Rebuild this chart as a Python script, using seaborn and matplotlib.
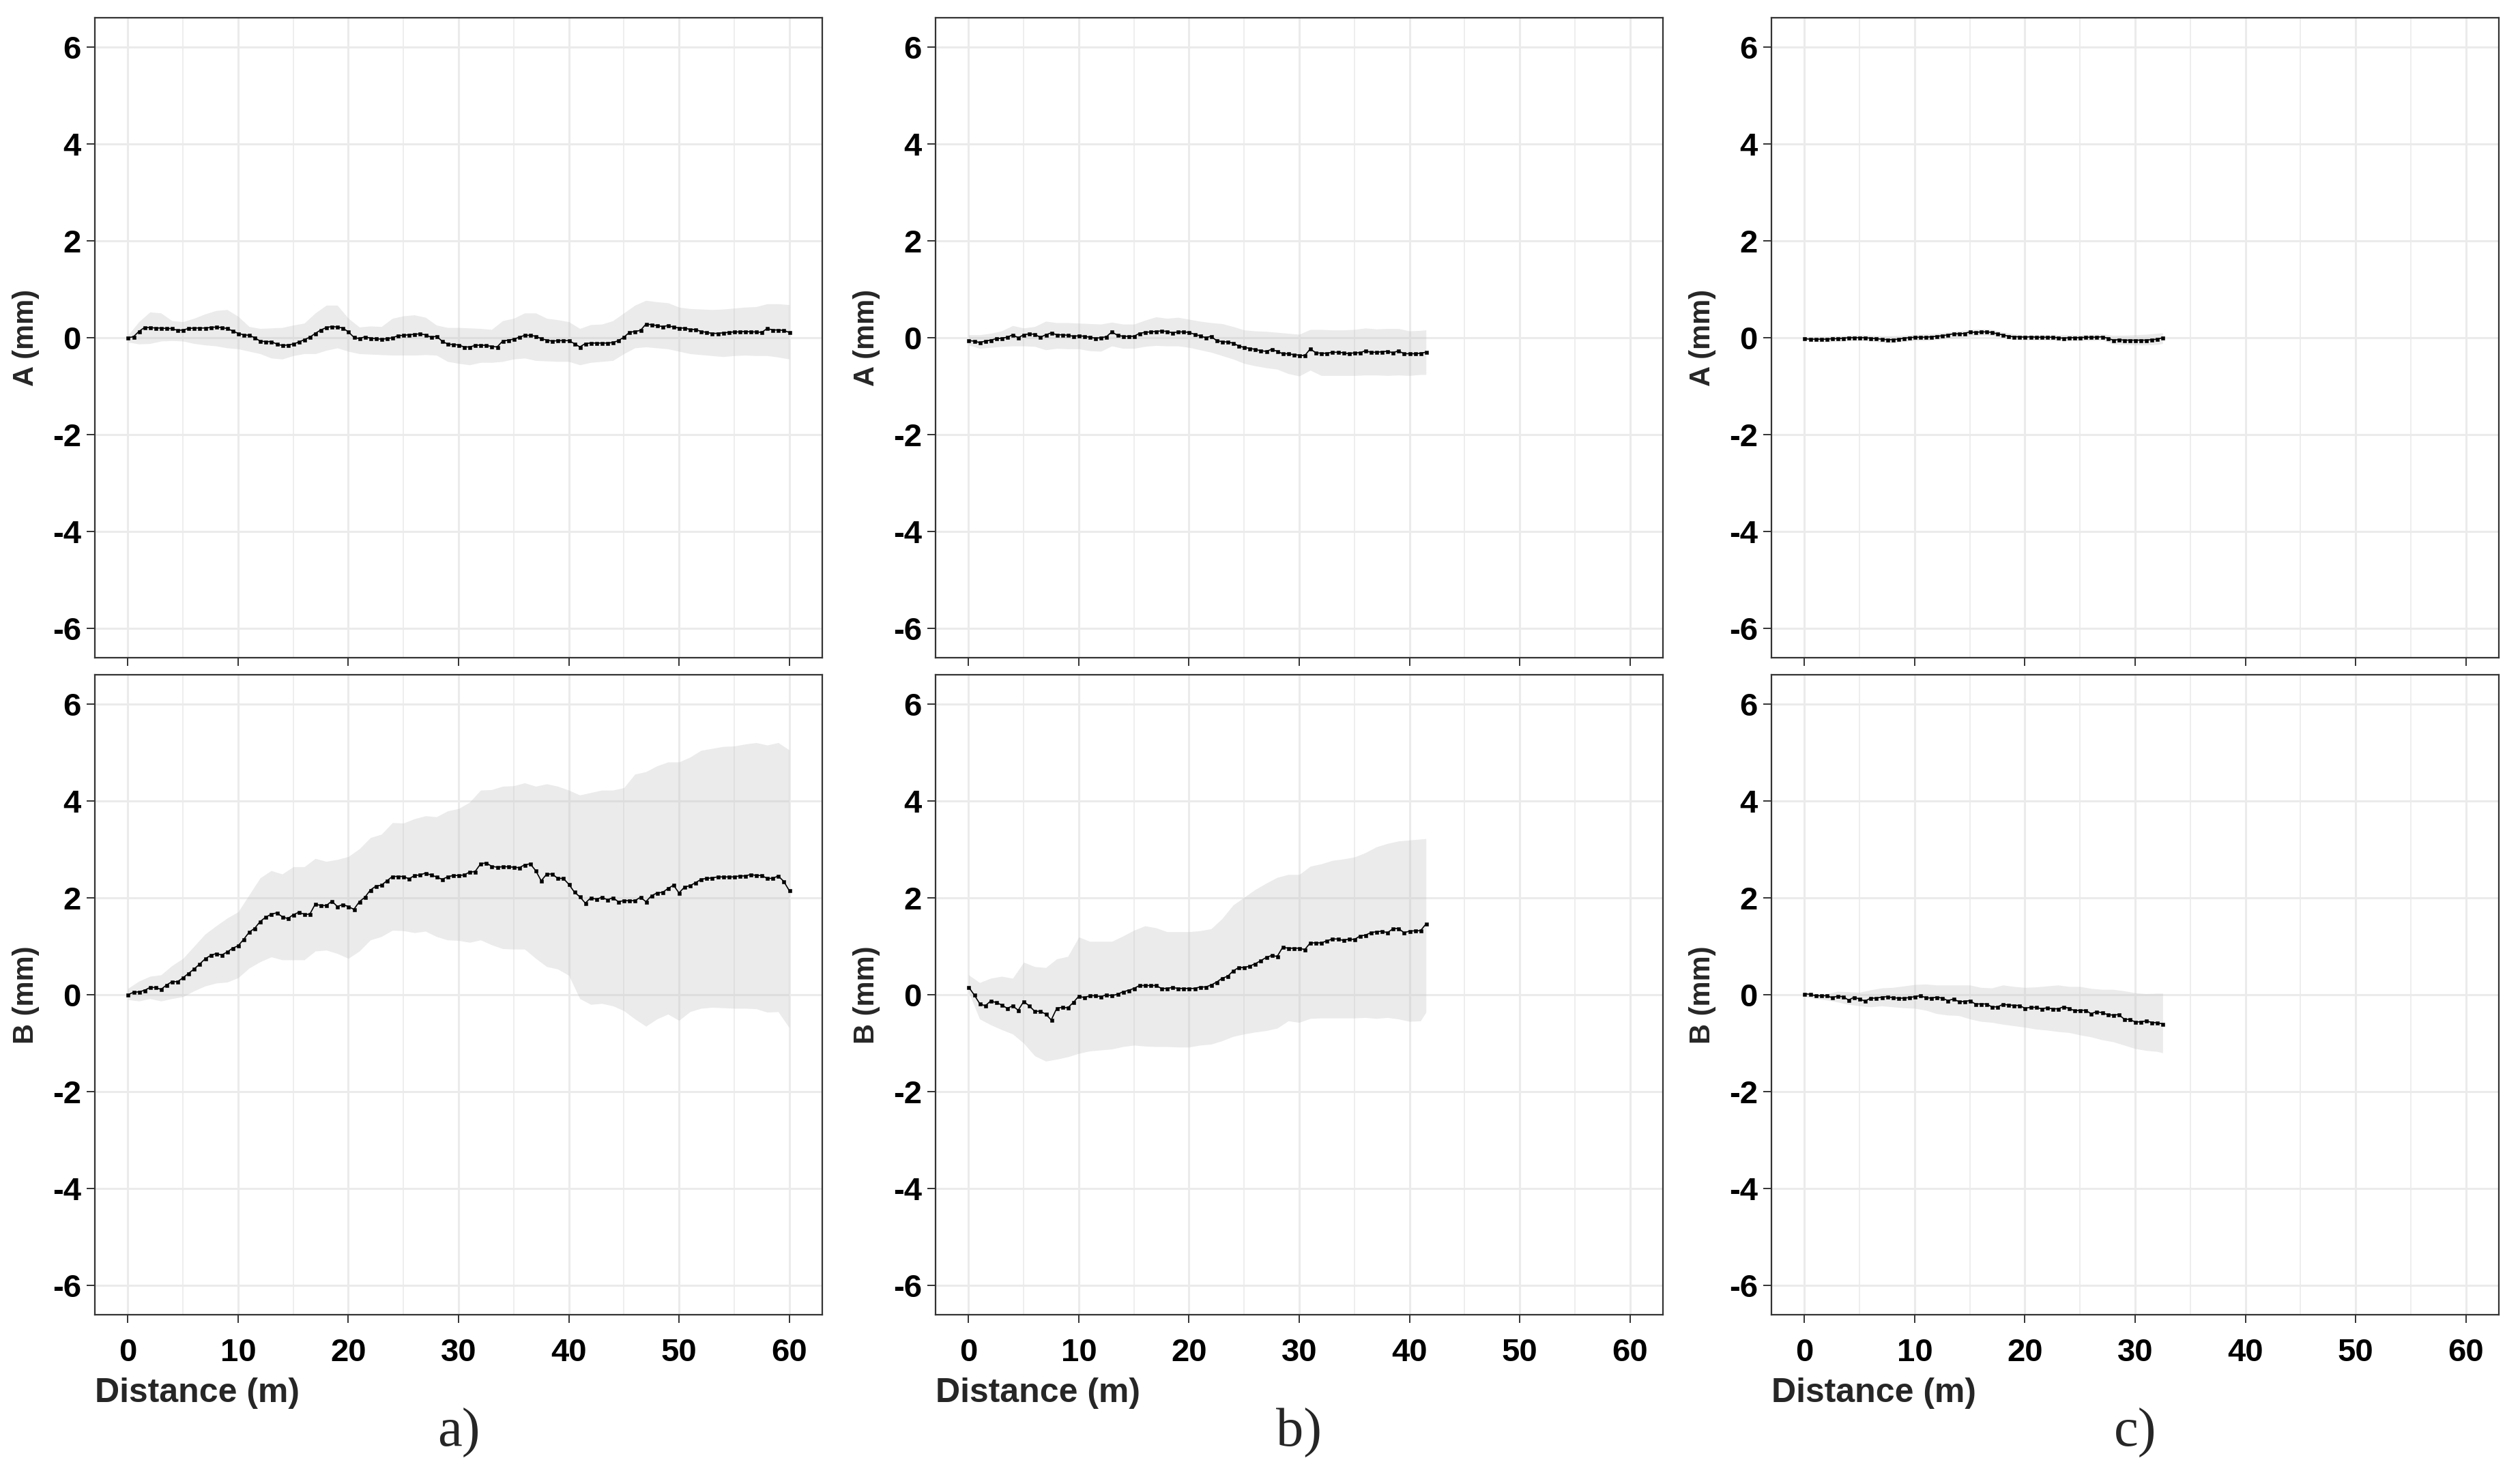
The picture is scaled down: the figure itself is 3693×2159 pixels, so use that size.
import numpy as np
import matplotlib
matplotlib.use("Agg")
import matplotlib.pyplot as plt
from matplotlib.ticker import MultipleLocator
import seaborn as sns

# profiles are sampled every 0.5 m, the band every 1 m (last band sample = end of run)
STEP = 0.5

# ---- run a) ----
a_A_mean = [0.00, 0.02, 0.13, 0.21, 0.21, 0.20, 0.20, 0.19, 0.19, 0.15,
            0.16, 0.19, 0.20, 0.20, 0.20, 0.21, 0.22, 0.21, 0.19, 0.14,
            0.09, 0.06, 0.05, 0.00, -0.07, -0.08, -0.08, -0.13, -0.16, -0.15,
            -0.13, -0.09, -0.04, 0.01, 0.09, 0.16, 0.21, 0.23, 0.22, 0.20,
            0.12, 0.01, -0.02, 0.02, -0.01, -0.02, -0.03, -0.02, 0.00, 0.04,
            0.05, 0.06, 0.07, 0.08, 0.06, 0.01, 0.03, -0.07, -0.13, -0.14,
            -0.15, -0.19, -0.19, -0.16, -0.15, -0.16, -0.18, -0.19, -0.07, -0.05,
            -0.03, 0.01, 0.05, 0.05, 0.03, -0.02, -0.05, -0.07, -0.06, -0.06,
            -0.06, -0.12, -0.19, -0.12, -0.11, -0.11, -0.11, -0.11, -0.10, -0.06,
            0.01, 0.11, 0.13, 0.15, 0.28, 0.27, 0.25, 0.23, 0.25, 0.22,
            0.20, 0.20, 0.17, 0.17, 0.13, 0.11, 0.09, 0.09, 0.10, 0.11,
            0.12, 0.12, 0.13, 0.12, 0.12, 0.11, 0.19, 0.16, 0.16, 0.15,
            0.11]
a_A_hi = [0.05, 0.33, 0.53, 0.51, 0.35, 0.33, 0.40, 0.49, 0.56, 0.58,
          0.44, 0.23, 0.19, 0.20, 0.21, 0.26, 0.30, 0.51, 0.67, 0.67,
          0.40, 0.22, 0.24, 0.23, 0.40, 0.45, 0.47, 0.42, 0.26, 0.21,
          0.21, 0.20, 0.19, 0.17, 0.35, 0.40, 0.51, 0.51, 0.40, 0.37,
          0.33, 0.19, 0.27, 0.28, 0.35, 0.51, 0.67, 0.77, 0.74, 0.72,
          0.63, 0.60, 0.59, 0.58, 0.59, 0.61, 0.63, 0.64, 0.70, 0.70,
          0.68]
a_A_lo = [-0.09, -0.13, -0.12, -0.07, -0.06, -0.07, -0.12, -0.15, -0.17, -0.21,
          -0.23, -0.28, -0.33, -0.42, -0.44, -0.37, -0.33, -0.33, -0.26, -0.21,
          -0.28, -0.33, -0.34, -0.35, -0.36, -0.36, -0.36, -0.35, -0.36, -0.49,
          -0.53, -0.56, -0.51, -0.51, -0.49, -0.44, -0.42, -0.47, -0.48, -0.49,
          -0.49, -0.56, -0.51, -0.49, -0.47, -0.33, -0.21, -0.19, -0.21, -0.23,
          -0.28, -0.33, -0.35, -0.37, -0.39, -0.37, -0.36, -0.37, -0.37, -0.40,
          -0.44]

a_B_mean = [0.00, 0.05, 0.06, 0.09, 0.15, 0.15, 0.11, 0.20, 0.27, 0.27,
            0.35, 0.44, 0.53, 0.63, 0.74, 0.81, 0.85, 0.82, 0.88, 0.96,
            1.01, 1.14, 1.29, 1.37, 1.51, 1.60, 1.66, 1.69, 1.61, 1.57,
            1.65, 1.70, 1.66, 1.66, 1.87, 1.84, 1.84, 1.93, 1.82, 1.86,
            1.82, 1.76, 1.92, 2.01, 2.16, 2.24, 2.26, 2.35, 2.44, 2.44,
            2.44, 2.39, 2.46, 2.47, 2.51, 2.47, 2.43, 2.38, 2.43, 2.46,
            2.46, 2.47, 2.53, 2.54, 2.70, 2.72, 2.65, 2.63, 2.64, 2.64,
            2.63, 2.62, 2.68, 2.70, 2.56, 2.35, 2.49, 2.49, 2.40, 2.40,
            2.28, 2.12, 2.02, 1.89, 2.00, 1.97, 2.01, 1.96, 2.00, 1.92,
            1.94, 1.94, 1.94, 2.01, 1.92, 2.04, 2.10, 2.11, 2.19, 2.26,
            2.10, 2.22, 2.25, 2.31, 2.38, 2.40, 2.41, 2.43, 2.43, 2.43,
            2.43, 2.45, 2.45, 2.48, 2.46, 2.46, 2.40, 2.40, 2.45, 2.34,
            2.15]
a_B_hi = [0.13, 0.28, 0.38, 0.41, 0.60, 0.75, 1.00, 1.25, 1.42, 1.58,
          1.71, 2.06, 2.41, 2.56, 2.49, 2.64, 2.64, 2.81, 2.75, 2.79,
          2.85, 3.01, 3.24, 3.31, 3.55, 3.54, 3.63, 3.69, 3.67, 3.79,
          3.84, 3.97, 4.22, 4.23, 4.30, 4.31, 4.37, 4.30, 4.35, 4.30,
          4.22, 4.12, 4.17, 4.22, 4.22, 4.27, 4.55, 4.60, 4.72, 4.80,
          4.80, 4.90, 5.04, 5.08, 5.12, 5.13, 5.17, 5.20, 5.15, 5.20,
          5.05]
a_B_lo = [-0.10, -0.13, -0.08, -0.13, -0.08, -0.04, 0.08, 0.18, 0.24, 0.26,
          0.35, 0.55, 0.68, 0.78, 0.72, 0.72, 0.72, 0.90, 0.92, 0.85,
          0.75, 0.90, 1.13, 1.20, 1.33, 1.32, 1.28, 1.31, 1.20, 1.13,
          1.12, 1.08, 1.13, 1.03, 0.95, 0.94, 0.94, 0.75, 0.58, 0.53,
          0.40, -0.08, -0.20, -0.18, -0.23, -0.33, -0.50, -0.65, -0.50, -0.40,
          -0.53, -0.35, -0.28, -0.26, -0.27, -0.28, -0.28, -0.29, -0.36, -0.35,
          -0.68]

# ---- run b) ----
b_A_mean = [-0.06, -0.07, -0.10, -0.07, -0.05, -0.02, -0.01, 0.01, 0.06, 0.00,
            0.06, 0.08, 0.07, 0.01, 0.06, 0.10, 0.06, 0.06, 0.05, 0.03,
            0.04, 0.03, 0.01, -0.01, 0.00, 0.02, 0.12, 0.05, 0.03, 0.03,
            0.03, 0.09, 0.11, 0.12, 0.13, 0.14, 0.13, 0.10, 0.12, 0.12,
            0.11, 0.07, 0.04, 0.00, 0.03, -0.06, -0.08, -0.09, -0.11, -0.17,
            -0.20, -0.22, -0.24, -0.27, -0.28, -0.24, -0.28, -0.33, -0.33, -0.35,
            -0.36, -0.37, -0.23, -0.31, -0.32, -0.32, -0.30, -0.30, -0.31, -0.33,
            -0.31, -0.31, -0.27, -0.30, -0.30, -0.29, -0.28, -0.31, -0.27, -0.33,
            -0.33, -0.33, -0.32, -0.30]
b_A_hi = [0.06, 0.06, 0.09, 0.14, 0.25, 0.20, 0.23, 0.34, 0.31, 0.31,
          0.30, 0.29, 0.28, 0.32, 0.28, 0.28, 0.36, 0.43, 0.40, 0.42,
          0.38, 0.34, 0.31, 0.29, 0.23, 0.16, 0.14, 0.13, 0.11, 0.09,
          0.07, 0.17, 0.17, 0.16, 0.16, 0.17, 0.20, 0.18, 0.19, 0.19,
          0.14, 0.15, 0.16]
b_A_lo = [-0.15, -0.22, -0.20, -0.18, -0.17, -0.17, -0.18, -0.25, -0.22, -0.23,
          -0.23, -0.27, -0.28, -0.17, -0.22, -0.22, -0.18, -0.16, -0.17, -0.17,
          -0.20, -0.25, -0.30, -0.37, -0.44, -0.53, -0.58, -0.62, -0.65, -0.74,
          -0.79, -0.67, -0.78, -0.78, -0.78, -0.78, -0.77, -0.77, -0.78, -0.77,
          -0.78, -0.76, -0.76]

b_B_mean = [0.16, 0.00, -0.18, -0.23, -0.13, -0.16, -0.21, -0.28, -0.23, -0.32,
            -0.14, -0.23, -0.34, -0.34, -0.40, -0.52, -0.28, -0.26, -0.27, -0.16,
            -0.03, -0.06, -0.02, -0.02, -0.04, 0.00, -0.02, 0.01, 0.06, 0.09,
            0.13, 0.19, 0.19, 0.19, 0.19, 0.13, 0.13, 0.15, 0.13, 0.13,
            0.13, 0.13, 0.16, 0.16, 0.20, 0.26, 0.34, 0.38, 0.49, 0.56,
            0.56, 0.59, 0.64, 0.70, 0.77, 0.81, 0.79, 0.98, 0.96, 0.96,
            0.96, 0.93, 1.07, 1.07, 1.07, 1.11, 1.15, 1.15, 1.12, 1.15,
            1.14, 1.21, 1.23, 1.28, 1.30, 1.31, 1.28, 1.36, 1.37, 1.28,
            1.31, 1.32, 1.32, 1.46]
b_B_hi = [0.41, 0.25, 0.34, 0.38, 0.34, 0.67, 0.58, 0.56, 0.74, 0.79,
          1.19, 1.10, 1.10, 1.10, 1.21, 1.33, 1.42, 1.38, 1.30, 1.30,
          1.30, 1.32, 1.36, 1.57, 1.85, 2.01, 2.17, 2.30, 2.42, 2.48,
          2.48, 2.65, 2.70, 2.77, 2.80, 2.84, 2.93, 3.05, 3.12, 3.17,
          3.19, 3.21, 3.22]
b_B_lo = [0.06, -0.50, -0.62, -0.72, -0.81, -1.00, -1.26, -1.37, -1.33, -1.28,
          -1.21, -1.16, -1.14, -1.12, -1.07, -1.04, -1.06, -1.07, -1.07, -1.08,
          -1.08, -1.04, -1.02, -0.95, -0.86, -0.81, -0.77, -0.74, -0.69, -0.54,
          -0.57, -0.49, -0.48, -0.48, -0.48, -0.48, -0.47, -0.49, -0.47, -0.50,
          -0.55, -0.54, -0.36]

# ---- run c) ----
c_A_mean = [-0.02, -0.03, -0.03, -0.03, -0.03, -0.02, -0.02, -0.01, 0.00, 0.00,
            0.00, 0.00, -0.01, -0.02, -0.03, -0.04, -0.04, -0.03, -0.01, 0.00,
            0.01, 0.01, 0.01, 0.02, 0.03, 0.04, 0.06, 0.08, 0.08, 0.09,
            0.12, 0.11, 0.12, 0.12, 0.11, 0.08, 0.06, 0.03, 0.02, 0.02,
            0.01, 0.02, 0.01, 0.01, 0.01, 0.01, 0.00, -0.01, 0.00, 0.00,
            0.00, 0.01, 0.01, 0.01, 0.02, -0.01, -0.05, -0.04, -0.05, -0.05,
            -0.05, -0.05, -0.05, -0.04, -0.03, 0.00]
c_A_hi = [0.02, 0.03, 0.03, 0.04, 0.05, 0.06, 0.05, 0.04, 0.04, 0.05,
          0.07, 0.08, 0.09, 0.12, 0.14, 0.17, 0.18, 0.17, 0.12, 0.08,
          0.06, 0.06, 0.06, 0.06, 0.06, 0.06, 0.07, 0.08, 0.05, 0.05,
          0.06, 0.07, 0.09, 0.10]
c_A_lo = [-0.05, -0.08, -0.09, -0.08, -0.06, -0.06, -0.07, -0.10, -0.11, -0.08,
          -0.06, -0.06, -0.04, -0.02, 0.00, 0.03, 0.05, 0.04, 0.00, -0.04,
          -0.05, -0.05, -0.05, -0.06, -0.06, -0.06, -0.06, -0.05, -0.13, -0.14,
          -0.15, -0.15, -0.14, -0.12]

c_B_mean = [0.02, 0.01, -0.02, -0.02, -0.02, -0.06, -0.03, -0.04, -0.11, -0.05,
            -0.09, -0.13, -0.07, -0.07, -0.05, -0.04, -0.06, -0.07, -0.07, -0.06,
            -0.04, -0.02, -0.06, -0.07, -0.05, -0.07, -0.12, -0.09, -0.14, -0.14,
            -0.12, -0.19, -0.19, -0.19, -0.25, -0.25, -0.20, -0.21, -0.22, -0.22,
            -0.28, -0.26, -0.26, -0.29, -0.27, -0.29, -0.29, -0.25, -0.28, -0.33,
            -0.32, -0.32, -0.39, -0.35, -0.37, -0.41, -0.42, -0.41, -0.50, -0.51,
            -0.56, -0.56, -0.54, -0.57, -0.58, -0.60]
c_B_hi = [0.02, 0.00, 0.02, 0.07, 0.06, 0.05, 0.10, 0.14, 0.15, 0.18,
          0.21, 0.22, 0.20, 0.20, 0.20, 0.20, 0.15, 0.14, 0.20, 0.17,
          0.15, 0.16, 0.18, 0.20, 0.17, 0.17, 0.13, 0.11, 0.11, 0.08,
          0.04, 0.02, 0.03, 0.03]
c_B_lo = [-0.04, -0.08, -0.11, -0.15, -0.20, -0.23, -0.25, -0.23, -0.25, -0.27,
          -0.28, -0.32, -0.39, -0.42, -0.43, -0.50, -0.55, -0.57, -0.61, -0.64,
          -0.67, -0.71, -0.73, -0.76, -0.78, -0.83, -0.87, -0.93, -0.97, -1.04,
          -1.11, -1.15, -1.17, -1.20]

panel_letters = ["a)", "b)", "c)"]
row_labels = ["A (mm)", "B (mm)"]
x_ticks = [0, 10, 20, 30, 40, 50, 60]
y_ticks = [-6, -4, -2, 0, 2, 4, 6]

runs = [
    [(a_A_mean, a_A_lo, a_A_hi), (a_B_mean, a_B_lo, a_B_hi)],
    [(b_A_mean, b_A_lo, b_A_hi), (b_B_mean, b_B_lo, b_B_hi)],
    [(c_A_mean, c_A_lo, c_A_hi), (c_B_mean, c_B_lo, c_B_hi)],
]

sns.set_theme(style="white")
plt.rcParams["font.family"] = ["Liberation Sans", "DejaVu Sans"]
plt.rcParams["font.weight"] = "bold"
plt.rcParams["axes.unicode_minus"] = False

W, H = 3693, 2159
fig = plt.figure(figsize=(W / 100, H / 100), dpi=100)

# axes boxes in pixels
lefts = [139, 1371, 2596]
ax_w = 1066
rows_px = [(26, 964), (989, 1927)]
GRID = "#ebebeb"
DARK = "#333333"


def draw_panel(ax, mean, lo, hi, ylabel, bottom_row):
    x = STEP * np.arange(len(mean))
    xr = np.arange(len(lo), dtype=float)
    xr[-1] = x[-1]
    ax.fill_between(xr, lo, hi, color="#bdbdbd", alpha=0.3, linewidth=0, zorder=2)
    sns.lineplot(x=x, y=mean, ax=ax, color="black", linewidth=1.2,
                 marker="s", markersize=3.6, markeredgecolor="black",
                 markeredgewidth=0.4, zorder=3)

    ax.set_xlim(-3, 63)
    ax.set_ylim(-6.6, 6.6)
    ax.set_xticks(x_ticks)
    ax.set_yticks(y_ticks)
    ax.xaxis.set_minor_locator(MultipleLocator(5))
    ax.set_axisbelow(True)
    ax.grid(which="major", color=GRID, linewidth=2.2)
    ax.grid(which="minor", axis="x", color=GRID, linewidth=1.2)
    ax.tick_params(which="major", direction="out", length=8.5, width=1.4,
                   color=DARK, labelsize=34, labelcolor="black",
                   bottom=True, left=True)
    ax.tick_params(which="minor", length=0)
    ax.tick_params(axis="x", pad=16)
    ax.tick_params(axis="y", pad=6)
    for s in ax.spines.values():
        s.set_color(DARK)
        s.set_linewidth(1.6)

    ax.set_ylabel(ylabel, fontsize=30, fontweight="bold", va="center")
    ax.yaxis.set_label_coords(-101 / ax_w, 0.5)
    if bottom_row:
        ax.set_xlabel("Distance (m)", fontsize=36, fontweight="bold",
                      ha="left", va="center")
        ax.xaxis.set_label_coords(0, -(2042 - 1927) / (1927 - 989))
    else:
        ax.set_xlabel("")
        ax.tick_params(axis="x", labelbottom=False)


for col, left in enumerate(lefts):
    for row, (top, bot) in enumerate(rows_px):
        ax = fig.add_axes([left / W, 1 - bot / H, ax_w / W, (bot - top) / H])
        mean, lo, hi = runs[col][row]
        draw_panel(ax, mean, lo, hi, row_labels[row], row == 1)
    fig.text((left + ax_w / 2) / W, 1 - 2100 / H, panel_letters[col],
             family=["Liberation Serif", "DejaVu Serif"], fontweight="normal",
             fontsize=58, ha="center", va="center")

fig.savefig("out.png", dpi=100)
